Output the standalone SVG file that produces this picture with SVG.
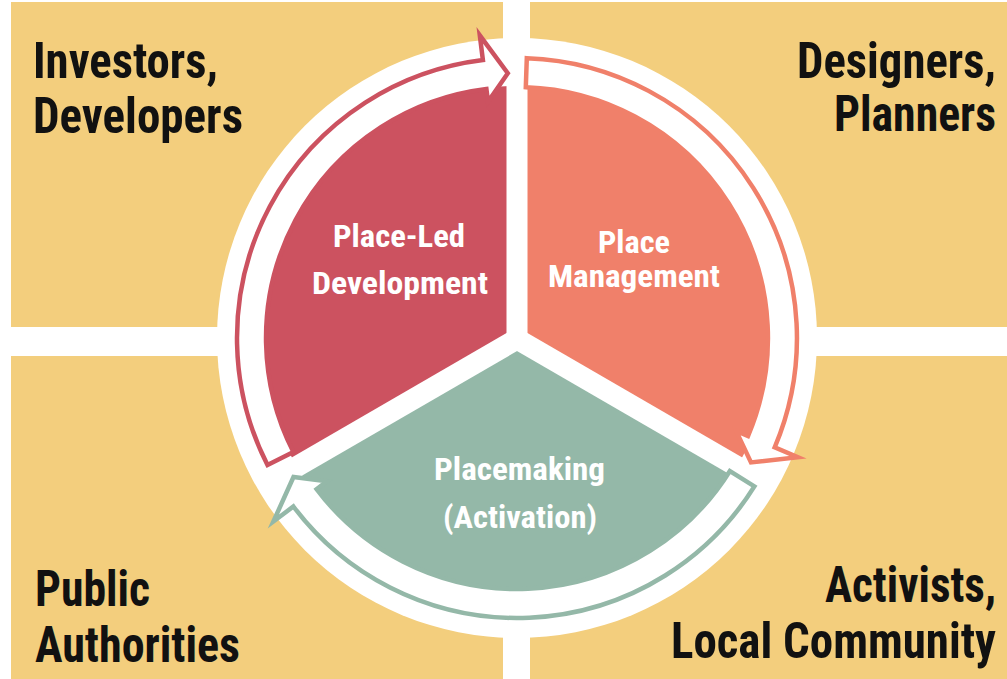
<svg xmlns="http://www.w3.org/2000/svg" width="1007" height="679" viewBox="0 0 1007 679">
  <style>
    .quad { fill: #F3CE7D; }
    .qlabel { font-family: "Roboto Condensed", "Liberation Sans Narrow", "DejaVu Sans Condensed", Roboto, sans-serif; font-weight: bold; font-size: 50px; fill: #111111; }
    .clabel { font-family: "Roboto Condensed", "Liberation Sans Narrow", "DejaVu Sans Condensed", Roboto, sans-serif; font-weight: bold; font-size: 32px; fill: #FFFFFF; }
    .gap { stroke: #FFFFFF; stroke-width: 21; fill: none; }
    .band { fill: #FFFFFF; stroke-width: 4.5; stroke-linejoin: miter; stroke-miterlimit: 10; }
  </style>
  <rect width="1007" height="679" fill="#FFFFFF"/>

  <g id="quadrant-investors">
    <rect class="quad" x="11" y="2" width="492" height="325"/>
    <text class="qlabel" x="33" y="78" textLength="185" lengthAdjust="spacingAndGlyphs">Investors,</text>
    <text class="qlabel" x="33" y="133" textLength="210" lengthAdjust="spacingAndGlyphs">Developers</text>
  </g>
  <g id="quadrant-designers">
    <rect class="quad" x="530" y="2" width="477" height="325"/>
    <text class="qlabel" x="797" y="78" textLength="199" lengthAdjust="spacingAndGlyphs">Designers,</text>
    <text class="qlabel" x="834" y="131" textLength="162" lengthAdjust="spacingAndGlyphs">Planners</text>
  </g>
  <g id="quadrant-public">
    <rect class="quad" x="11" y="356" width="492" height="323"/>
    <text class="qlabel" x="35" y="606" textLength="115" lengthAdjust="spacingAndGlyphs">Public</text>
    <text class="qlabel" x="35" y="662" textLength="205" lengthAdjust="spacingAndGlyphs">Authorities</text>
  </g>
  <g id="quadrant-activists">
    <rect class="quad" x="530" y="356" width="477" height="323"/>
    <text class="qlabel" x="825" y="602" textLength="171" lengthAdjust="spacingAndGlyphs">Activists,</text>
    <text class="qlabel" x="671" y="658" textLength="325" lengthAdjust="spacingAndGlyphs">Local Community</text>
  </g>

  <circle id="backdrop" cx="517" cy="338" r="300" fill="#FFFFFF"/>

  <g id="sector-place-led">
    <path d="M517 340 L297 467 A254 254 0 0 1 517 86 Z" fill="#CC5260"/>
  </g>
  <g id="sector-place-management">
    <path d="M517 340 L517 86 A254 254 0 0 1 737 467 Z" fill="#F0806A"/>
  </g>
  <g id="sector-placemaking">
    <path d="M517 340 L737 467 A254 254 0 0 1 297 467 Z" fill="#94B8A8"/>
  </g>

  <g id="gaps">
    <line class="gap" x1="517" y1="339" x2="517" y2="70"/>
    <line class="gap" x1="517" y1="339" x2="750" y2="474"/>
    <line class="gap" x1="517" y1="339" x2="284" y2="474"/>
  </g>

  <g id="connectors">
    <path class="band" stroke="#CC5260" d="M267.5 465.1 A280 280 0 0 1 482.9 60.1 L479.8 35.3 L507.8 73.2 L488.0 101.8 L486.4 88.9 A251 251 0 0 0 293.4 452.0 Z"/>
    <path class="band" stroke="#F0806A" d="M526.8 58.2 A280 280 0 0 1 774.7 447.4 L797.8 457.2 L751.0 462.4 L736.1 431.0 L748.0 436.1 A251 251 0 0 0 525.8 87.2 Z"/>
    <path class="band" stroke="#94B8A8" d="M754.4 486.4 A280 280 0 0 1 293.4 506.5 L273.4 521.5 L293.5 477.0 L326.9 481.2 L316.6 489.1 A251 251 0 0 0 729.9 471.0 Z"/>
  </g>

  <g id="label-place-led">
    <text class="clabel" x="333" y="247" textLength="132" lengthAdjust="spacingAndGlyphs">Place-Led</text>
    <text class="clabel" x="312" y="294" textLength="176" lengthAdjust="spacingAndGlyphs">Development</text>
  </g>
  <g id="label-place-management">
    <text class="clabel" x="598" y="253" textLength="72" lengthAdjust="spacingAndGlyphs">Place</text>
    <text class="clabel" x="548" y="287" textLength="172" lengthAdjust="spacingAndGlyphs">Management</text>
  </g>
  <g id="label-placemaking">
    <text class="clabel" x="434" y="480" textLength="171" lengthAdjust="spacingAndGlyphs">Placemaking</text>
    <text class="clabel" x="443" y="528" textLength="154" lengthAdjust="spacingAndGlyphs">(Activation)</text>
  </g>
</svg>
